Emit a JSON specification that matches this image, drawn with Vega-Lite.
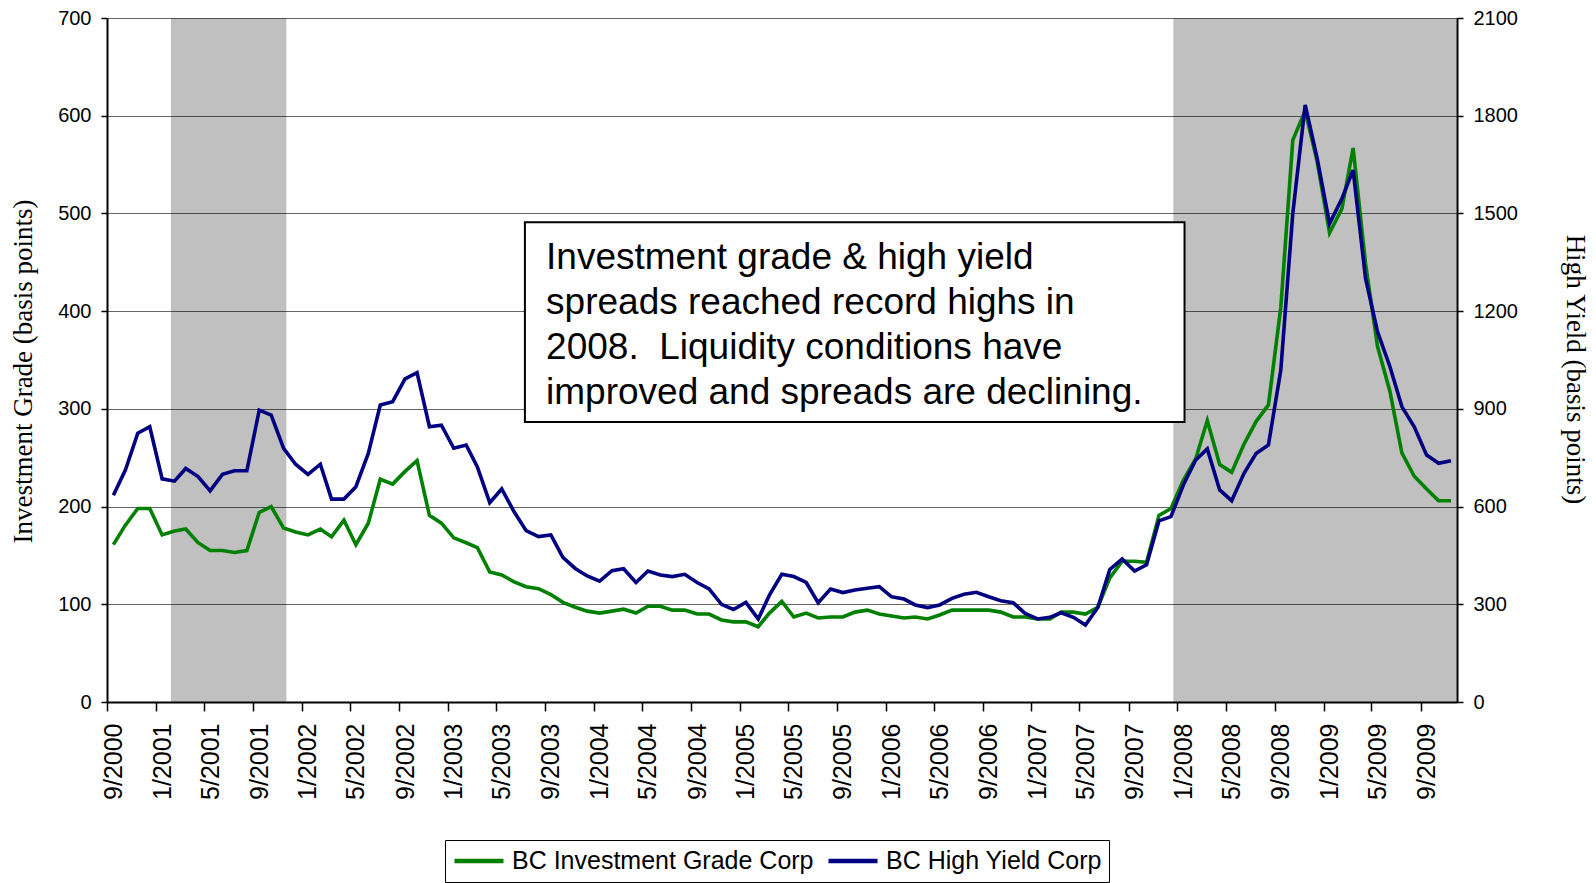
{
  "$schema": "https://vega.github.io/schema/vega-lite/v6.json",
  "width": 1350,
  "height": 684,
  "autosize": "none",
  "padding": {"left": 107, "top": 18, "right": 139, "bottom": 181},
  "background": "white",
  "config": {
    "view": {"stroke": null},
    "font": "Liberation Sans",
    "axis": {
      "labelFont": "Liberation Sans", "labelFontSize": 20, "labelColor": "black",
      "titleFont": "Liberation Serif", "titleFontSize": 27, "titleFontWeight": "normal", "titleColor": "black",
      "domainColor": "black", "domainWidth": 2, "tickColor": "black", "tickWidth": 1.5, "tickSize": 6, "labelPadding": 10
    },
    "axisX": {
      "labelExpr": "utcFormat(datum.value, '%-m/%Y')", "tickCount": {"interval": "month", "step": 4},
      "labelAngle": 270, "labelAlign": "right", "labelBaseline": "middle", "labelFontSize": 25,
      "labelPadding": 12, "tickSize": 9, "tickOffset": -6, "labelOffset": 6,
      "labelFlush": false, "labelOverlap": false, "labelBound": false, "grid": false, "zindex": 1
    },
    "legend": {"labelFont": "Liberation Sans"}
  },
  "datasets": {
    "spreads": [
      {"date": "2000-09-01", "ig": 161, "hy": 635},
      {"date": "2000-10-01", "ig": 181, "hy": 712},
      {"date": "2000-11-01", "ig": 198, "hy": 825},
      {"date": "2000-12-01", "ig": 198, "hy": 845},
      {"date": "2001-01-01", "ig": 171, "hy": 685},
      {"date": "2001-02-01", "ig": 175, "hy": 678},
      {"date": "2001-03-01", "ig": 177, "hy": 717},
      {"date": "2001-04-01", "ig": 163, "hy": 692},
      {"date": "2001-05-01", "ig": 155, "hy": 648},
      {"date": "2001-06-01", "ig": 155, "hy": 699},
      {"date": "2001-07-01", "ig": 153, "hy": 710},
      {"date": "2001-08-01", "ig": 155, "hy": 710},
      {"date": "2001-09-01", "ig": 194, "hy": 896},
      {"date": "2001-10-01", "ig": 200, "hy": 881},
      {"date": "2001-11-01", "ig": 178, "hy": 779},
      {"date": "2001-12-01", "ig": 174, "hy": 730},
      {"date": "2002-01-01", "ig": 171, "hy": 699},
      {"date": "2002-02-01", "ig": 177, "hy": 730},
      {"date": "2002-03-01", "ig": 169, "hy": 623},
      {"date": "2002-04-01", "ig": 186, "hy": 623},
      {"date": "2002-05-01", "ig": 161, "hy": 661},
      {"date": "2002-06-01", "ig": 183, "hy": 763},
      {"date": "2002-07-01", "ig": 228, "hy": 912},
      {"date": "2002-08-01", "ig": 223, "hy": 922},
      {"date": "2002-09-01", "ig": 236, "hy": 992},
      {"date": "2002-10-01", "ig": 247, "hy": 1011},
      {"date": "2002-11-01", "ig": 191, "hy": 845},
      {"date": "2002-12-01", "ig": 183, "hy": 850},
      {"date": "2003-01-01", "ig": 168, "hy": 779},
      {"date": "2003-02-01", "ig": 163, "hy": 789},
      {"date": "2003-03-01", "ig": 158, "hy": 722},
      {"date": "2003-04-01", "ig": 133, "hy": 612},
      {"date": "2003-05-01", "ig": 130, "hy": 654},
      {"date": "2003-06-01", "ig": 123, "hy": 584},
      {"date": "2003-07-01", "ig": 118, "hy": 526},
      {"date": "2003-08-01", "ig": 116, "hy": 508},
      {"date": "2003-09-01", "ig": 110, "hy": 513},
      {"date": "2003-10-01", "ig": 102, "hy": 444},
      {"date": "2003-11-01", "ig": 97, "hy": 410},
      {"date": "2003-12-01", "ig": 93, "hy": 387},
      {"date": "2004-01-01", "ig": 91, "hy": 371},
      {"date": "2004-02-01", "ig": 93, "hy": 403},
      {"date": "2004-03-01", "ig": 95, "hy": 409},
      {"date": "2004-04-01", "ig": 91, "hy": 367},
      {"date": "2004-05-01", "ig": 98, "hy": 402},
      {"date": "2004-06-01", "ig": 98, "hy": 390},
      {"date": "2004-07-01", "ig": 94, "hy": 385},
      {"date": "2004-08-01", "ig": 94, "hy": 392},
      {"date": "2004-09-01", "ig": 90, "hy": 367},
      {"date": "2004-10-01", "ig": 90, "hy": 347},
      {"date": "2004-11-01", "ig": 84, "hy": 300},
      {"date": "2004-12-01", "ig": 82, "hy": 284},
      {"date": "2005-01-01", "ig": 82, "hy": 306},
      {"date": "2005-02-01", "ig": 77, "hy": 255},
      {"date": "2005-03-01", "ig": 91, "hy": 328},
      {"date": "2005-04-01", "ig": 103, "hy": 392},
      {"date": "2005-05-01", "ig": 87, "hy": 385},
      {"date": "2005-06-01", "ig": 91, "hy": 367},
      {"date": "2005-07-01", "ig": 86, "hy": 305},
      {"date": "2005-08-01", "ig": 87, "hy": 347},
      {"date": "2005-09-01", "ig": 87, "hy": 336},
      {"date": "2005-10-01", "ig": 92, "hy": 344},
      {"date": "2005-11-01", "ig": 94, "hy": 349},
      {"date": "2005-12-01", "ig": 90, "hy": 354},
      {"date": "2006-01-01", "ig": 88, "hy": 323},
      {"date": "2006-02-01", "ig": 86, "hy": 316},
      {"date": "2006-03-01", "ig": 87, "hy": 298},
      {"date": "2006-04-01", "ig": 85, "hy": 290},
      {"date": "2006-05-01", "ig": 89, "hy": 298},
      {"date": "2006-06-01", "ig": 94, "hy": 318},
      {"date": "2006-07-01", "ig": 94, "hy": 331},
      {"date": "2006-08-01", "ig": 94, "hy": 337},
      {"date": "2006-09-01", "ig": 94, "hy": 323},
      {"date": "2006-10-01", "ig": 92, "hy": 311},
      {"date": "2006-11-01", "ig": 87, "hy": 305},
      {"date": "2006-12-01", "ig": 87, "hy": 272},
      {"date": "2007-01-01", "ig": 85, "hy": 255},
      {"date": "2007-02-01", "ig": 85, "hy": 260},
      {"date": "2007-03-01", "ig": 92, "hy": 274},
      {"date": "2007-04-01", "ig": 92, "hy": 260},
      {"date": "2007-05-01", "ig": 90, "hy": 236},
      {"date": "2007-06-01", "ig": 97, "hy": 290},
      {"date": "2007-07-01", "ig": 127, "hy": 407},
      {"date": "2007-08-01", "ig": 144, "hy": 439},
      {"date": "2007-09-01", "ig": 144, "hy": 402},
      {"date": "2007-10-01", "ig": 143, "hy": 421},
      {"date": "2007-11-01", "ig": 191, "hy": 556},
      {"date": "2007-12-01", "ig": 198, "hy": 569},
      {"date": "2008-01-01", "ig": 227, "hy": 666},
      {"date": "2008-02-01", "ig": 249, "hy": 743},
      {"date": "2008-03-01", "ig": 288, "hy": 777},
      {"date": "2008-04-01", "ig": 243, "hy": 651},
      {"date": "2008-05-01", "ig": 235, "hy": 618},
      {"date": "2008-06-01", "ig": 264, "hy": 702},
      {"date": "2008-07-01", "ig": 287, "hy": 763},
      {"date": "2008-08-01", "ig": 304, "hy": 789},
      {"date": "2008-09-01", "ig": 404, "hy": 1019},
      {"date": "2008-10-01", "ig": 575, "hy": 1500},
      {"date": "2008-11-01", "ig": 605, "hy": 1833},
      {"date": "2008-12-01", "ig": 553, "hy": 1669},
      {"date": "2009-01-01", "ig": 480, "hy": 1469},
      {"date": "2009-02-01", "ig": 505, "hy": 1546},
      {"date": "2009-03-01", "ig": 567, "hy": 1633},
      {"date": "2009-04-01", "ig": 449, "hy": 1301},
      {"date": "2009-05-01", "ig": 364, "hy": 1137},
      {"date": "2009-06-01", "ig": 318, "hy": 1030},
      {"date": "2009-07-01", "ig": 255, "hy": 907},
      {"date": "2009-08-01", "ig": 231, "hy": 845},
      {"date": "2009-09-01", "ig": 218, "hy": 758},
      {"date": "2009-10-01", "ig": 206, "hy": 733},
      {"date": "2009-11-01", "ig": 206, "hy": 741}
    ],
    "recessions": [
      {"start": "2001-01-23", "end": "2001-11-08"},
      {"start": "2007-12-07", "end": "2009-11-15"}
    ]
  },
  "layer": [
    {
      "layer": [
        {
          "data": {"name": "recessions"},
          "mark": {"type": "rect", "fill": "black", "opacity": 0.247},
          "encoding": {
            "x": {"field": "start", "type": "temporal", "title": null,
                  "scale": {"type": "utc", "domain": [{"year": 2000, "month": 8, "date": 16, "utc": true}, {"year": 2009, "month": 11, "date": 16, "utc": true}]}},
            "x2": {"field": "end"}
          }
        },
        {
          "data": {"name": "spreads"},
          "mark": {"type": "line", "strokeWidth": 3.6},
          "encoding": {
            "x": {"field": "date", "type": "temporal", "title": null,
                  "scale": {"type": "utc", "domain": [{"year": 2000, "month": 8, "date": 16, "utc": true}, {"year": 2009, "month": 11, "date": 16, "utc": true}]}},
            "y": {"field": "ig", "type": "quantitative",
                  "scale": {"domain": [0, 700], "nice": false, "zero": true},
                  "axis": {"title": "Investment Grade (basis points)", "values": [0, 100, 200, 300, 400, 500, 600, 700],
                           "format": "d", "grid": true, "gridColor": "#666666", "gridWidth": 1, "orient": "left",
                           "titlePadding": 20, "titleY": 353}},
            "color": {"datum": "BC Investment Grade Corp", "type": "nominal",
                      "scale": {"domain": ["BC Investment Grade Corp", "BC High Yield Corp"], "range": ["#008000", "#000080"]},
                      "legend": {"orient": "none", "legendX": 338, "legendY": 822, "direction": "horizontal", "columns": 2,
                                 "title": null, "symbolType": "stroke", "symbolSize": 2401, "symbolStrokeWidth": 4.5,
                                 "clipHeight": 28, "labelFontSize": 25, "labelColor": "black", "labelLimit": 0,
                                 "labelOffset": 6, "columnPadding": 12, "padding": 7, "strokeColor": "black",
                                 "fillColor": "white"}}
          }
        },
        {
          "data": {"values": [{"kind": "note"}]},
          "mark": {"type": "rect", "fill": "white", "stroke": "black", "strokeWidth": 2},
          "encoding": {
            "x": {"datum": {"year": 2003, "month": 6, "date": 28, "utc": true}, "type": "temporal", "title": null,
                  "scale": {"type": "utc", "domain": [{"year": 2000, "month": 8, "date": 16, "utc": true}, {"year": 2009, "month": 11, "date": 16, "utc": true}]}},
            "x2": {"datum": {"year": 2008, "month": 1, "date": 4, "utc": true}},
            "y": {"datum": 491, "type": "quantitative"},
            "y2": {"datum": 286.5}
          }
        },
        {
          "data": {"values": [{"note": "Investment grade & high yield\nspreads reached record highs in\n2008.\u00a0 Liquidity conditions have\nimproved and spreads are declining."}]},
          "mark": {"type": "text", "align": "left", "baseline": "alphabetic", "fontSize": 37, "lineHeight": 44.8,
                   "lineBreak": "\n", "font": "Liberation Sans", "color": "black"},
          "encoding": {
            "x": {"datum": {"year": 2003, "month": 8, "date": 20, "utc": true}, "type": "temporal", "title": null,
                  "scale": {"type": "utc", "domain": [{"year": 2000, "month": 8, "date": 16, "utc": true}, {"year": 2009, "month": 11, "date": 16, "utc": true}]}},
            "y": {"datum": 443, "type": "quantitative"},
            "text": {"field": "note"}
          }
        }
      ]
    },
    {
      "data": {"name": "spreads"},
      "mark": {"type": "line", "strokeWidth": 3.6},
      "encoding": {
        "x": {"field": "date", "type": "temporal", "title": null,
              "scale": {"type": "utc", "domain": [{"year": 2000, "month": 8, "date": 16, "utc": true}, {"year": 2009, "month": 11, "date": 16, "utc": true}]}},
        "y": {"field": "hy", "type": "quantitative",
              "scale": {"domain": [0, 2100], "nice": false, "zero": true},
              "axis": {"title": "High Yield (basis points)", "orient": "right", "values": [0, 300, 600, 900, 1200, 1500, 1800, 2100],
                       "format": "d", "grid": false, "titlePadding": 43, "titleY": 351, "titleAngle": 90}},
        "color": {"datum": "BC High Yield Corp", "type": "nominal"}
      }
    }
  ],
  "resolve": {"scale": {"y": "independent"}}
}
